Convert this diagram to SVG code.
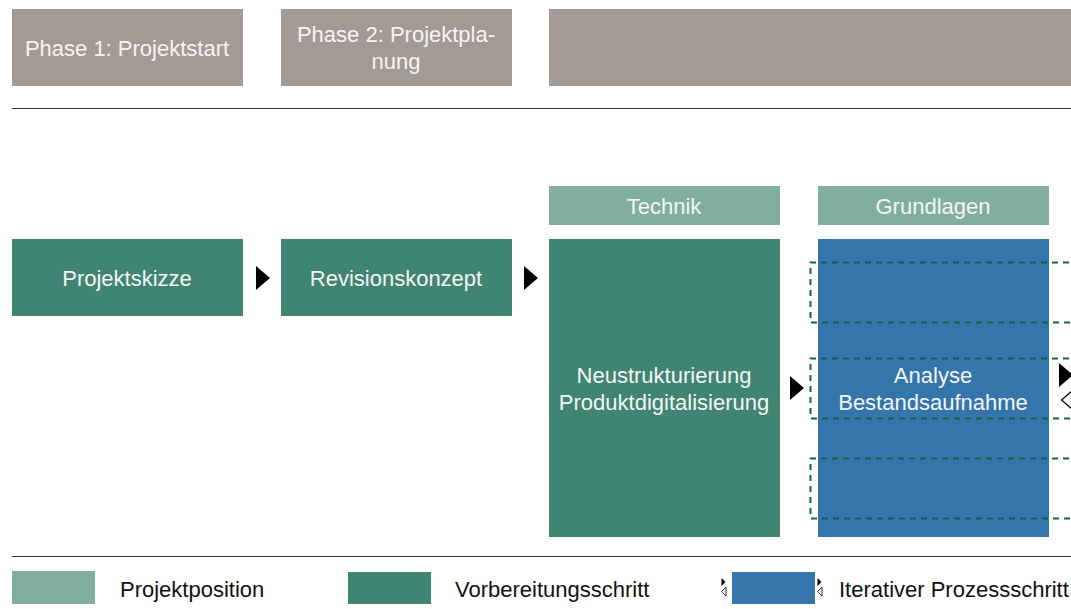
<svg xmlns="http://www.w3.org/2000/svg" width="1071" height="609" viewBox="0 0 1071 609">
<style>
text{font-family:"Liberation Sans",Arial,sans-serif;font-size:22px}
.w{fill:#f4f4f4;text-anchor:middle}
.k{fill:#111}
.phase{fill:#a39a96}
.pos{fill:#80ae9f}
.prep{fill:#408572}
.iter{fill:#3476ab}
.dash{fill:none;stroke:#14624a;stroke-width:2;stroke-dasharray:6 5}
.sep{stroke:#333;stroke-width:1.2}
</style>
<g id="phase1"><rect class="phase" x="12" y="9" width="231" height="77"/><text class="w" x="127" y="56">Phase 1: Projektstart</text></g>
<g id="phase2"><rect class="phase" x="281" y="9" width="231" height="77"/><text class="w" x="396" y="42">Phase 2: Projektpla-</text><text class="w" x="396" y="69">nung</text></g>
<g id="phase3"><rect class="phase" x="549" y="9" width="530" height="77"/></g>
<line class="sep" x1="12" y1="108.5" x2="1071" y2="108.5"/>
<g id="technik"><rect class="pos" x="549" y="186" width="231" height="39"/><text class="w" x="664" y="214">Technik</text></g>
<g id="grundlagen"><rect class="pos" x="818" y="186" width="231" height="39"/><text class="w" x="933" y="214">Grundlagen</text></g>
<g id="projektskizze"><rect class="prep" x="12" y="239" width="231" height="77"/><text class="w" x="127" y="286">Projektskizze</text></g>
<g id="revisionskonzept"><rect class="prep" x="281" y="239" width="231" height="77"/><text class="w" x="396" y="286">Revisionskonzept</text></g>
<g id="neustrukturierung"><rect class="prep" x="549" y="239" width="231" height="298"/><text class="w" x="664" y="383">Neustrukturierung</text><text class="w" x="664" y="410">Produktdigitalisierung</text></g>
<g id="analyse"><rect class="iter" x="818" y="239" width="231" height="298"/><text class="w" x="933" y="383">Analyse</text><text class="w" x="933" y="410">Bestandsaufnahme</text></g>
<g id="iterations">
<path class="dash" d="M1080 262.5H810.5V322.5H1080"/>
<path class="dash" d="M1080 358.5H810.5V418.5H1080"/>
<path class="dash" d="M1080 458.5H810.5V518.5H1080"/>
</g>
<g id="connectors">
<polygon points="256,266 270,278 256,290" fill="#000"/>
<polygon points="524,266 538,278 524,290" fill="#000"/>
<polygon points="790,376 804,388 790,400" fill="#000"/>
<polygon points="1059,363 1073,375 1059,387" fill="#000"/>
<polygon points="1072,391 1061.5,400 1072,409" fill="#fff" stroke="#000" stroke-width="1.2"/>
</g>
<line class="sep" x1="12" y1="556.5" x2="1071" y2="556.5"/>
<g id="legend">
<rect class="pos" x="12" y="571" width="83" height="33"/><text class="k" x="120" y="597">Projektposition</text>
<rect class="prep" x="348" y="572" width="83" height="32"/><text class="k" x="455" y="597">Vorbereitungsschritt</text>
<polygon points="721.5,578 725.5,582 721.5,586" fill="#000"/>
<polygon points="726,587 721.5,591.5 726,596" fill="#fff" stroke="#000" stroke-width="0.8"/>
<rect class="iter" x="732" y="572" width="83" height="32"/>
<polygon points="817.5,578 821.5,582 817.5,586" fill="#000"/>
<polygon points="822,587 817.5,591.5 822,596" fill="#fff" stroke="#000" stroke-width="0.8"/>
<text class="k" x="839" y="597">Iterativer Prozessschritt</text>
</g>
</svg>
